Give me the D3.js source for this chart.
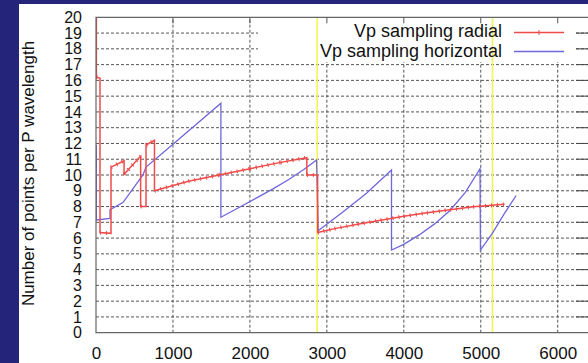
<!DOCTYPE html>
<html>
<head>
<meta charset="utf-8">
<script src="https://cdn.jsdelivr.net/npm/d3@7"></script>
<style>
  body { margin: 0; background: #24247a; }
  svg { display: block; }
  text { font-family: "Liberation Sans", Arial, Helvetica, sans-serif; fill: #111; }
</style>
</head>
<body>
<div id="chart"></div>
<script>
// Chart size
const width = 588;
const height = 363;

// Data
const radialX = [5, 5, 52, 52, 195, 195, 365, 365, 580, 580, 650, 650, 760, 760, 1200, 1600, 2000, 2400, 2740, 2740, 2880, 2880, 3100, 3400, 3700, 4000, 4300, 4600, 4900, 5310];
const radialY = [20, 16.2, 16.15, 6.35, 6.3, 10.5, 10.9, 10.05, 11.2, 8.0, 8.0, 11.9, 12.2, 9.0, 9.6, 10.0, 10.4, 10.8, 11.1, 10.0, 10.0, 6.35, 6.6, 6.88, 7.13, 7.38, 7.6, 7.8, 7.98, 8.14];

const horizX = [5, 5, 182, 182, 350, 610, 650, 1000, 1300, 1623, 1623, 1900, 2100, 2300, 2500, 2700, 2866, 2887, 3200, 3515, 3840, 3840, 4000, 4200, 4400, 4600, 4800, 4990, 4996, 5150, 5300, 5460];
const horizY = [11.9, 7.15, 7.25, 7.8, 8.25, 10.0, 10.5, 11.95, 13.2, 14.55, 7.32, 8.05, 8.58, 9.12, 9.7, 10.35, 10.95, 6.47, 7.62, 8.84, 10.32, 5.24, 5.6, 6.2, 6.9, 7.75, 8.9, 10.4, 5.24, 6.3, 7.5, 8.7];

// Yellow marker lines
const markerX = [2874, 5152];

// Tick labels
const xTicks = [0, 1000, 2000, 3000, 4000, 5000, 6000];
const yTicks = [0, 1, 2, 3, 4, 5, 6, 7, 8, 9, 10, 11, 12, 13, 14, 15, 16, 17, 18, 19, 20];

// Series labels
const seriesNames = ["Vp sampling radial", "Vp sampling horizontal"];
const seriesColors = ["#f04a4a", "#6e66de"];

const radial = radialX.map((x, i) => [x, radialY[i]]);
const horiz = horizX.map((x, i) => [x, horizY[i]]);

const svg = d3.select("#chart")
  .append("svg")
  .attr("width", width)
  .attr("height", height);

// Navy slide background and white panel
svg.append("rect").attr("width", width).attr("height", height).attr("fill", "#24247a");
svg.append("rect").attr("x", 19).attr("y", 4).attr("width", width - 19).attr("height", height - 4).attr("fill", "#fff");

// Scales
const x = d3.scaleLinear().domain([0, 6400]).range([96, 588.5]);
const y = d3.scaleLinear().domain([0, 20]).range([332.7, 17.3]);

const plot = svg.append("g");

// clip for the data
svg.append("clipPath").attr("id", "clip")
  .append("rect").attr("x", 96).attr("y", 17.3).attr("width", 493).attr("height", 315.4);

// Grid lines
plot.selectAll(".hgrid")
  .data(yTicks.filter(d => d > 0 && d < 20))
  .enter().append("line")
  .attr("x1", x(0)).attr("x2", x(6400))
  .attr("y1", d => y(d)).attr("y2", d => y(d))
  .attr("stroke", "#555")
  .attr("stroke-width", 1)
  .attr("stroke-dasharray", "3,2");

plot.selectAll(".vgrid")
  .data(xTicks.filter(d => d > 0))
  .enter().append("line")
  .attr("x1", d => x(d)).attr("x2", d => x(d))
  .attr("y1", y(0)).attr("y2", y(20))
  .attr("stroke", "#555")
  .attr("stroke-width", 1)
  .attr("stroke-dasharray", "3,2");

// Opaque legend box hides the grid behind it
plot.append("rect")
  .attr("x", 258).attr("y", 18).attr("width", 316).attr("height", 44)
  .attr("fill", "#fff");

// Yellow vertical lines
plot.selectAll(".marker")
  .data(markerX)
  .enter().append("line")
  .attr("x1", d => x(d)).attr("x2", d => x(d))
  .attr("y1", y(0)).attr("y2", y(20))
  .attr("stroke", "#f4f458")
  .attr("stroke-width", 1.6);

const line = d3.line().x(d => x(d[0])).y(d => y(d[1]));

const data = svg.append("g").attr("clip-path", "url(#clip)");

// Horizontal sampling
data.append("path")
  .attr("d", line(horiz))
  .attr("fill", "none")
  .attr("stroke", seriesColors[1])
  .attr("stroke-width", 1.3);

// Radial sampling
data.append("path")
  .attr("d", line(radial))
  .attr("fill", "none")
  .attr("stroke", seriesColors[0])
  .attr("stroke-width", 1.5);

// point markers along the sloped runs of the radial curve
const runs = d3.pairs(radial).filter(p => p[1][0] - p[0][0] > 20);
data.selectAll(".tick-run")
  .data(runs)
  .enter().append("line")
  .attr("x1", d => x(d[0][0])).attr("y1", d => y(d[0][1]))
  .attr("x2", d => x(d[1][0])).attr("y2", d => y(d[1][1]))
  .attr("stroke", seriesColors[0])
  .attr("stroke-width", 4)
  .attr("stroke-dasharray", "1,5");

// Border
svg.append("path")
  .attr("d", `M${x(6400)},${y(20)}H${x(0)}V${y(0)}H${x(6400)}`)
  .attr("fill", "none")
  .attr("stroke", "#666")
  .attr("stroke-width", 1.2);

// top and right ticks
svg.selectAll(".ttick")
  .data(xTicks.filter(d => d > 0))
  .enter().append("line")
  .attr("x1", d => x(d)).attr("x2", d => x(d))
  .attr("y1", y(20)).attr("y2", y(20) + 6)
  .attr("stroke", "#555");

svg.selectAll(".rtick")
  .data(yTicks.filter(d => d > 0 && d < 20))
  .enter().append("line")
  .attr("x1", 576).attr("x2", 588)
  .attr("y1", d => y(d)).attr("y2", d => y(d))
  .attr("stroke", "#444");

// Axes labels
const xAxis = svg.append("g")
  .attr("transform", `translate(0,${y(0)})`)
  .call(d3.axisBottom(x).tickValues(xTicks).tickFormat(d3.format("d")).tickSize(0).tickPadding(14));
const yAxis = svg.append("g")
  .attr("transform", `translate(${x(0)},0)`)
  .call(d3.axisLeft(y).tickValues(yTicks).tickFormat(d3.format("d")).tickSize(0).tickPadding(14));

[xAxis, yAxis].forEach(a => {
  a.select(".domain").remove();
  a.selectAll("text")
    .attr("fill", "#111")
    .style("font-size", "17px")
    .style("font-family", "'Liberation Sans', Arial, sans-serif");
});
yAxis.selectAll("text").style("font-size", "16px");

svg.append("text")
  .attr("transform", "translate(34,173.5) rotate(-90)")
  .attr("text-anchor", "middle")
  .style("font-size", "17px")
  .text("Number of points per P wavelength");

// Legend
const legend = svg.selectAll(".legend")
  .data(seriesNames)
  .enter().append("g");

legend.append("text")
  .attr("x", 502)
  .attr("y", (d, i) => 37 + i * 19.5)
  .attr("text-anchor", "end")
  .style("font-size", "18px")
  .text(d => d);

legend.append("line")
  .attr("x1", 514).attr("x2", 564)
  .attr("y1", (d, i) => 32.5 + i * 19)
  .attr("y2", (d, i) => 32.5 + i * 19)
  .attr("stroke", (d, i) => seriesColors[i])
  .attr("stroke-width", 1.3);

svg.append("line")
  .attr("x1", 539).attr("x2", 539)
  .attr("y1", 30).attr("y2", 35)
  .attr("stroke", seriesColors[0])
  .attr("stroke-width", 1);
</script>
</body>
</html>
